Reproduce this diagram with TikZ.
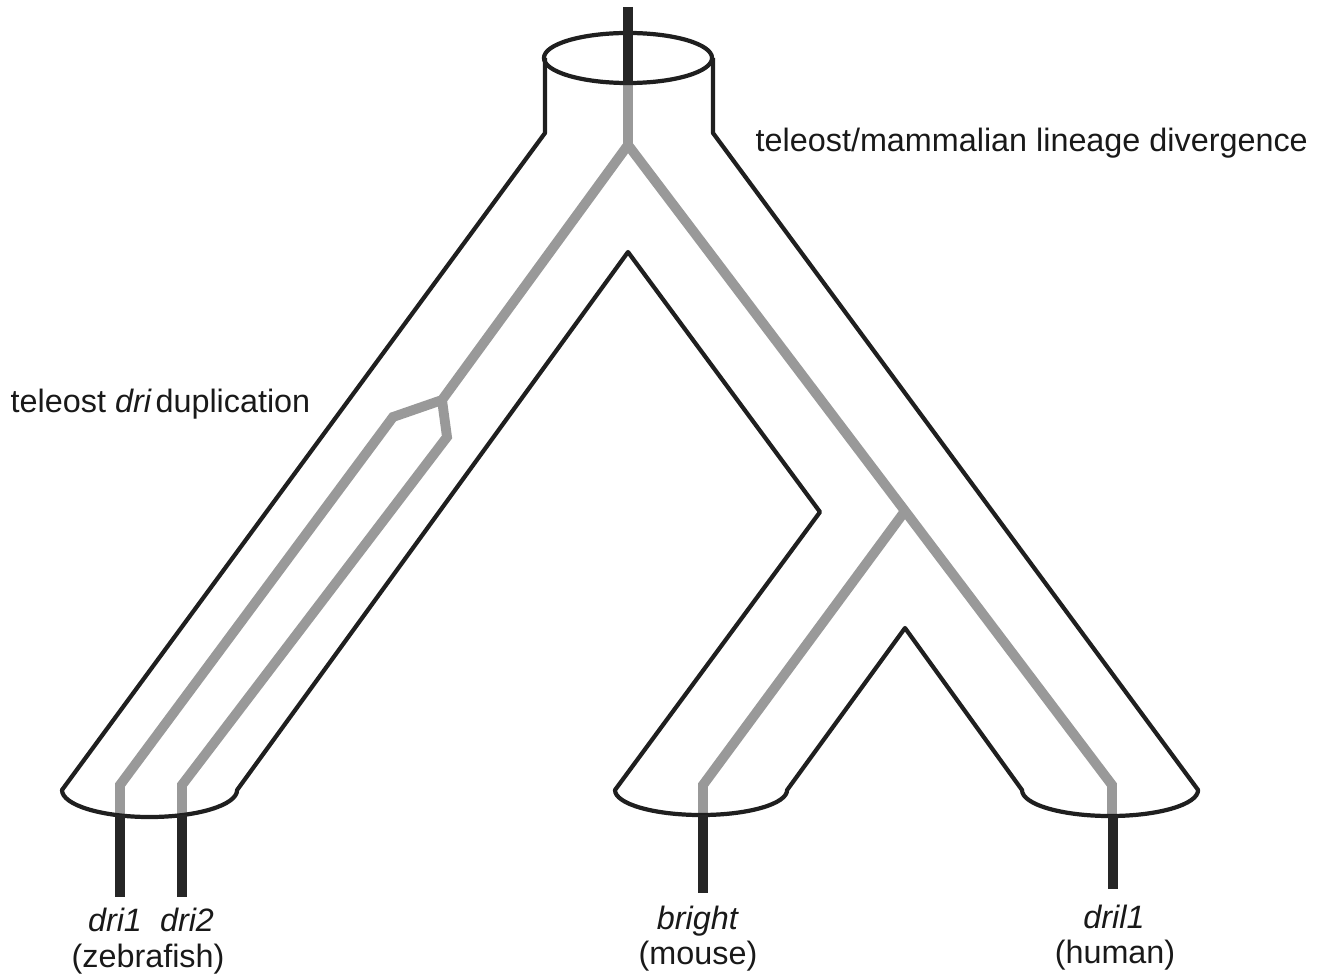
\documentclass[tikz,border=0pt]{standalone}
\usepackage{fontspec}
\setmainfont{Liberation Sans}
\begin{document}
\begin{tikzpicture}[x=0.01cm,y=-0.01cm,
  outline/.style={line width=1.2pt, draw=black!88, line join=round},
  lineage/.style={line width=2.8pt, draw=black!40, line join=miter},
  gene/.style={line width=2.6pt, draw=black!85},
  lbl/.style={font=\fontsize{9.2}{11}\selectfont, inner sep=0pt, text=black!90}
]
\useasboundingbox (0,0) rectangle (1318,979);

% --- key points of the species tube ---
\coordinate (topC) at (628,58);
\coordinate (shL0) at (545,58);
\coordinate (shL)  at (545,133);
\coordinate (botL) at (62,790);
\coordinate (apexA) at (628,252);
\coordinate (knee) at (820,512);
\coordinate (botM) at (615,790);
\coordinate (apexB) at (905,628);
\coordinate (botR) at (1022,790);
\coordinate (shR)  at (713,133);
\coordinate (shR0) at (713,58);

% --- gene lineage (grey) ---
\coordinate (gTop) at (628,85);
\coordinate (gRoot) at (628,145);
\coordinate (gDup) at (442,400);
\coordinate (g1a) at (393,417);
\coordinate (g1b) at (120,785);
\coordinate (g1c) at (120,817);
\coordinate (g2a) at (447,437);
\coordinate (g2b) at (182,785);
\coordinate (g2c) at (182,817);
\coordinate (gSp) at (905,511);
\coordinate (gHa) at (1112,785);
\coordinate (gHb) at (1112,817);
\coordinate (gMa) at (703,785);
\coordinate (gMb) at (703,817);

\draw[lineage] (gTop) -- (gRoot) -- (gDup) -- (g1a) -- (g1b) -- (g1c);
\draw[lineage] (gDup) -- (g2a) -- (g2b) -- (g2c);
\draw[lineage] (gRoot) -- (gSp) -- (gHa) -- (gHb);
\draw[lineage] (gSp) -- (gMa) -- (gMb);

% --- species tube outline ---
\draw[outline] (topC) ellipse [x radius=0.84cm, y radius=0.25cm];
\draw[outline] (shL0) -- (shL) -- (botL)
  arc[start angle=180, end angle=360, x radius=0.875cm, y radius=0.27cm]
  -- (apexA) -- (knee) -- (botM)
  arc[start angle=180, end angle=360, x radius=0.86cm, y radius=0.25cm]
  -- (apexB) -- (botR)
  arc[start angle=180, end angle=360, x radius=0.88cm, y radius=0.26cm]
  -- (shR) -- (shR0);

% --- gene stubs (black) ---
\coordinate (sTop0) at (628,7);
\coordinate (s1) at (120,897);
\coordinate (s2) at (182,897);
\coordinate (sM) at (703,893);
\coordinate (sH) at (1113,889);
\draw[gene] (sTop0) -- (gTop);
\draw[gene] (120,815) coordinate (s1t) -- (s1);
\draw[gene] (182,815) coordinate (s2t) -- (s2);
\draw[gene] (703,815) coordinate (sMt) -- (sM);
\draw[gene] (1113,815) coordinate (sHt) -- (sH);

% --- labels ---
\node[lbl, anchor=base west] (div) at (755,152) {teleost/mammalian lineage divergence};
\node[lbl, anchor=base west] (dup) at (10,412) {teleost \textit{dri}\hspace{0.12em}duplication};
\node[lbl, anchor=base] (dri1) at (115,931) {\textit{dri1}};
\node[lbl, anchor=base] (dri2) at (187,931) {\textit{dri2}};
\node[lbl, anchor=base] (zf) at (148,967) {(zebrafish)};
\node[lbl, anchor=base] (brt) at (698,929) {\textit{bright}};
\node[lbl, anchor=base] (ms) at (698,964) {(mouse)};
\node[lbl, anchor=base] (dril) at (1114,928) {\textit{dril1}};
\node[lbl, anchor=base] (hs) at (1115,963) {(human)};
\end{tikzpicture}
\end{document}
